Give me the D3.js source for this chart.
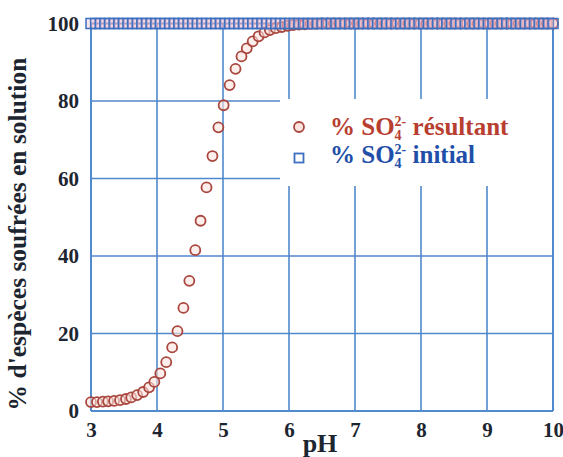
<!DOCTYPE html>
<html><head><meta charset="utf-8">
<script src="https://cdn.jsdelivr.net/npm/d3@7"></script>
<style>body{margin:0;background:#fff}svg{display:block}</style>
</head><body>
<svg id="c" width="563" height="457"></svg>
<script>
const pHResultant = [3.00,3.09,3.18,3.26,3.35,3.44,3.53,3.61,3.70,3.79,
3.88,3.96,4.05,4.14,4.23,4.31,4.40,4.49,4.58,4.66,
4.75,4.84,4.93,5.01,5.10,5.19,5.28,5.36,5.45,5.54,
5.63,5.71,5.80,5.89,5.98,6.06,6.15,6.24,6.33,6.41,
6.50,6.59,6.68,6.76,6.85,6.94,7.03,7.11,7.20,7.29,
7.38,7.46,7.55,7.64,7.73,7.81,7.90,7.99,8.08,8.16,
8.25,8.34,8.43,8.51,8.60,8.69,8.78,8.86,8.95,9.04,
9.13,9.21,9.30,9.39,9.48,9.56,9.65,9.74,9.83,9.91,10.00];
const pctResultant = [2.3,2.3,2.4,2.5,2.6,2.8,3.1,3.5,4.1,4.9,
6.1,7.5,9.7,12.6,16.4,20.6,26.6,33.6,41.5,49.1,
57.7,65.8,73.2,78.9,84.1,88.3,91.5,93.6,95.4,96.7,
97.7,98.3,98.8,99.1,99.4,99.6,99.7,99.8,99.9,99.9,
100,100,100,100,100,100,100,100,100,100,
100,100,100,100,100,100,100,100,100,100,
100,100,100,100,100,100,100,100,100,100,
100,100,100,100,100,100,100,100,100,100,100];
const pHInitial = [3.00,3.07,3.14,3.21,3.28,3.35,3.42,3.49,3.56,3.63,
3.70,3.77,3.84,3.91,3.98,4.05,4.12,4.19,4.26,4.33,
4.40,4.47,4.54,4.61,4.68,4.75,4.82,4.89,4.96,5.03,
5.10,5.17,5.24,5.31,5.38,5.45,5.52,5.59,5.66,5.73,
5.80,5.87,5.94,6.01,6.08,6.15,6.22,6.29,6.36,6.43,
6.50,6.57,6.64,6.71,6.78,6.85,6.92,6.99,7.06,7.13,
7.20,7.27,7.34,7.41,7.48,7.55,7.62,7.69,7.76,7.83,
7.90,7.97,8.04,8.11,8.18,8.25,8.32,8.39,8.46,8.53,
8.60,8.67,8.74,8.81,8.88,8.95,9.02,9.09,9.16,9.23,
9.30,9.37,9.44,9.51,9.58,9.65,9.72,9.79,9.86,9.93,10.00];
const pctInitial = [100,100,100,100,100,100,100,100,100,100,
100,100,100,100,100,100,100,100,100,100,
100,100,100,100,100,100,100,100,100,100,
100,100,100,100,100,100,100,100,100,100,
100,100,100,100,100,100,100,100,100,100,
100,100,100,100,100,100,100,100,100,100,
100,100,100,100,100,100,100,100,100,100,
100,100,100,100,100,100,100,100,100,100,
100,100,100,100,100,100,100,100,100,100,
100,100,100,100,100,100,100,100,100,100,100];
const xTicks = [3,4,5,6,7,8,9,10];
const yTicks = [0,20,40,60,80,100];
const xTitle = "pH";
const yTitle = "% d'espèces soufrées en solution";

const svg = d3.select("#c");
const FONT = "'Liberation Serif','Times New Roman',serif";
const x = d3.scaleLinear().domain([3,10]).range([91,553]);
const y = d3.scaleLinear().domain([0,100]).range([411,23.5]);
const gridC = "#5089cc";
const textC = "#1d2630";

// grid
const grid = svg.append("g");
grid.selectAll(".vx").data(xTicks).join("line")
  .attr("x1",d=>x(d)).attr("x2",d=>x(d)).attr("y1",y(0)).attr("y2",y(100))
  .attr("stroke",gridC).attr("stroke-width",d=>(d===3||d===10)?2:1.6);
grid.selectAll(".hy").data(yTicks).join("line")
  .attr("y1",d=>y(d)).attr("y2",d=>y(d)).attr("x1",x(3)).attr("x2",x(10))
  .attr("stroke",gridC).attr("stroke-width",d=>(d===0||d===100)?2.2:1.6);

// legend background
svg.append("rect").attr("x",280).attr("y",99).attr("width",272).attr("height",87).attr("fill","#fff");

// axes labels
const xAxis = d3.axisBottom(x).tickValues(xTicks).tickSize(0).tickFormat(d3.format("d"));
const gx = svg.append("g").attr("transform",`translate(0,${y(0)})`).call(xAxis);
gx.select(".domain").remove();
gx.selectAll("text").attr("dy",null).attr("y",26)
  .attr("font-family",FONT).attr("font-weight","bold").attr("font-size",21).attr("fill",textC);
const yAxis = d3.axisLeft(y).tickValues(yTicks).tickSize(0).tickFormat(d3.format("d"));
const gy = svg.append("g").attr("transform",`translate(${x(3)},0)`).call(yAxis);
gy.select(".domain").remove();
gy.selectAll("text").attr("x",-12).attr("dy","0.33em")
  .attr("font-family",FONT).attr("font-weight","bold").attr("font-size",21).attr("fill",textC);

// circles
svg.append("g").selectAll("circle").data(pHResultant.map((p,i)=>[p,pctResultant[i]])).join("circle")
  .attr("cx",d=>x(d[0])).attr("cy",d=>y(d[1])).attr("r",5)
  .attr("fill","#fbe3de").attr("fill-opacity",0.6).attr("stroke","#a9473f").attr("stroke-width",1.8);
// squares
svg.append("g").selectAll("rect").data(pHInitial.map((p,i)=>[p,pctInitial[i]])).join("rect")
  .attr("x",d=>x(d[0])-5).attr("y",d=>y(d[1])-5).attr("width",10).attr("height",10)
  .attr("fill","#f0b8c8").attr("fill-opacity",0.35).attr("stroke","#3d6fc0").attr("stroke-width",1.5);

// legend
svg.append("circle").attr("cx",299).attr("cy",127).attr("r",5)
  .attr("fill","#fbe3de").attr("stroke","#a9473f").attr("stroke-width",1.8);
svg.append("rect").attr("x",294.5).attr("y",153.5).attr("width",9).attr("height",9)
  .attr("fill","none").attr("stroke","#3d6fc0").attr("stroke-width",1.8);
function legendText(yb, label, color){
  const t = svg.append("text").attr("x",330).attr("y",yb).attr("font-family",FONT)
    .attr("font-weight","bold").attr("font-size",25).attr("fill",color);
  t.append("tspan").text("% SO");
  t.append("tspan").attr("font-size",14).attr("dy",5).text("4");
  t.append("tspan").attr("font-size",14).attr("dx",-7).attr("dy",-14).text("2-");
  t.append("tspan").attr("font-size",25).attr("dy",9).text(" " + label);
}
legendText(135, "résultant", "#b83e30");
legendText(163, "initial", "#1f4fa8");

// titles
svg.append("text").attr("x",320).attr("y",452).attr("text-anchor","middle")
  .attr("font-family",FONT).attr("font-weight","bold").attr("font-size",26).attr("fill",textC).text(xTitle);
svg.append("text").attr("transform","translate(26,234) rotate(-90)").attr("text-anchor","middle")
  .attr("font-family",FONT).attr("font-weight","bold").attr("font-size",25.5).attr("fill",textC).text(yTitle);
</script>
</body></html>
